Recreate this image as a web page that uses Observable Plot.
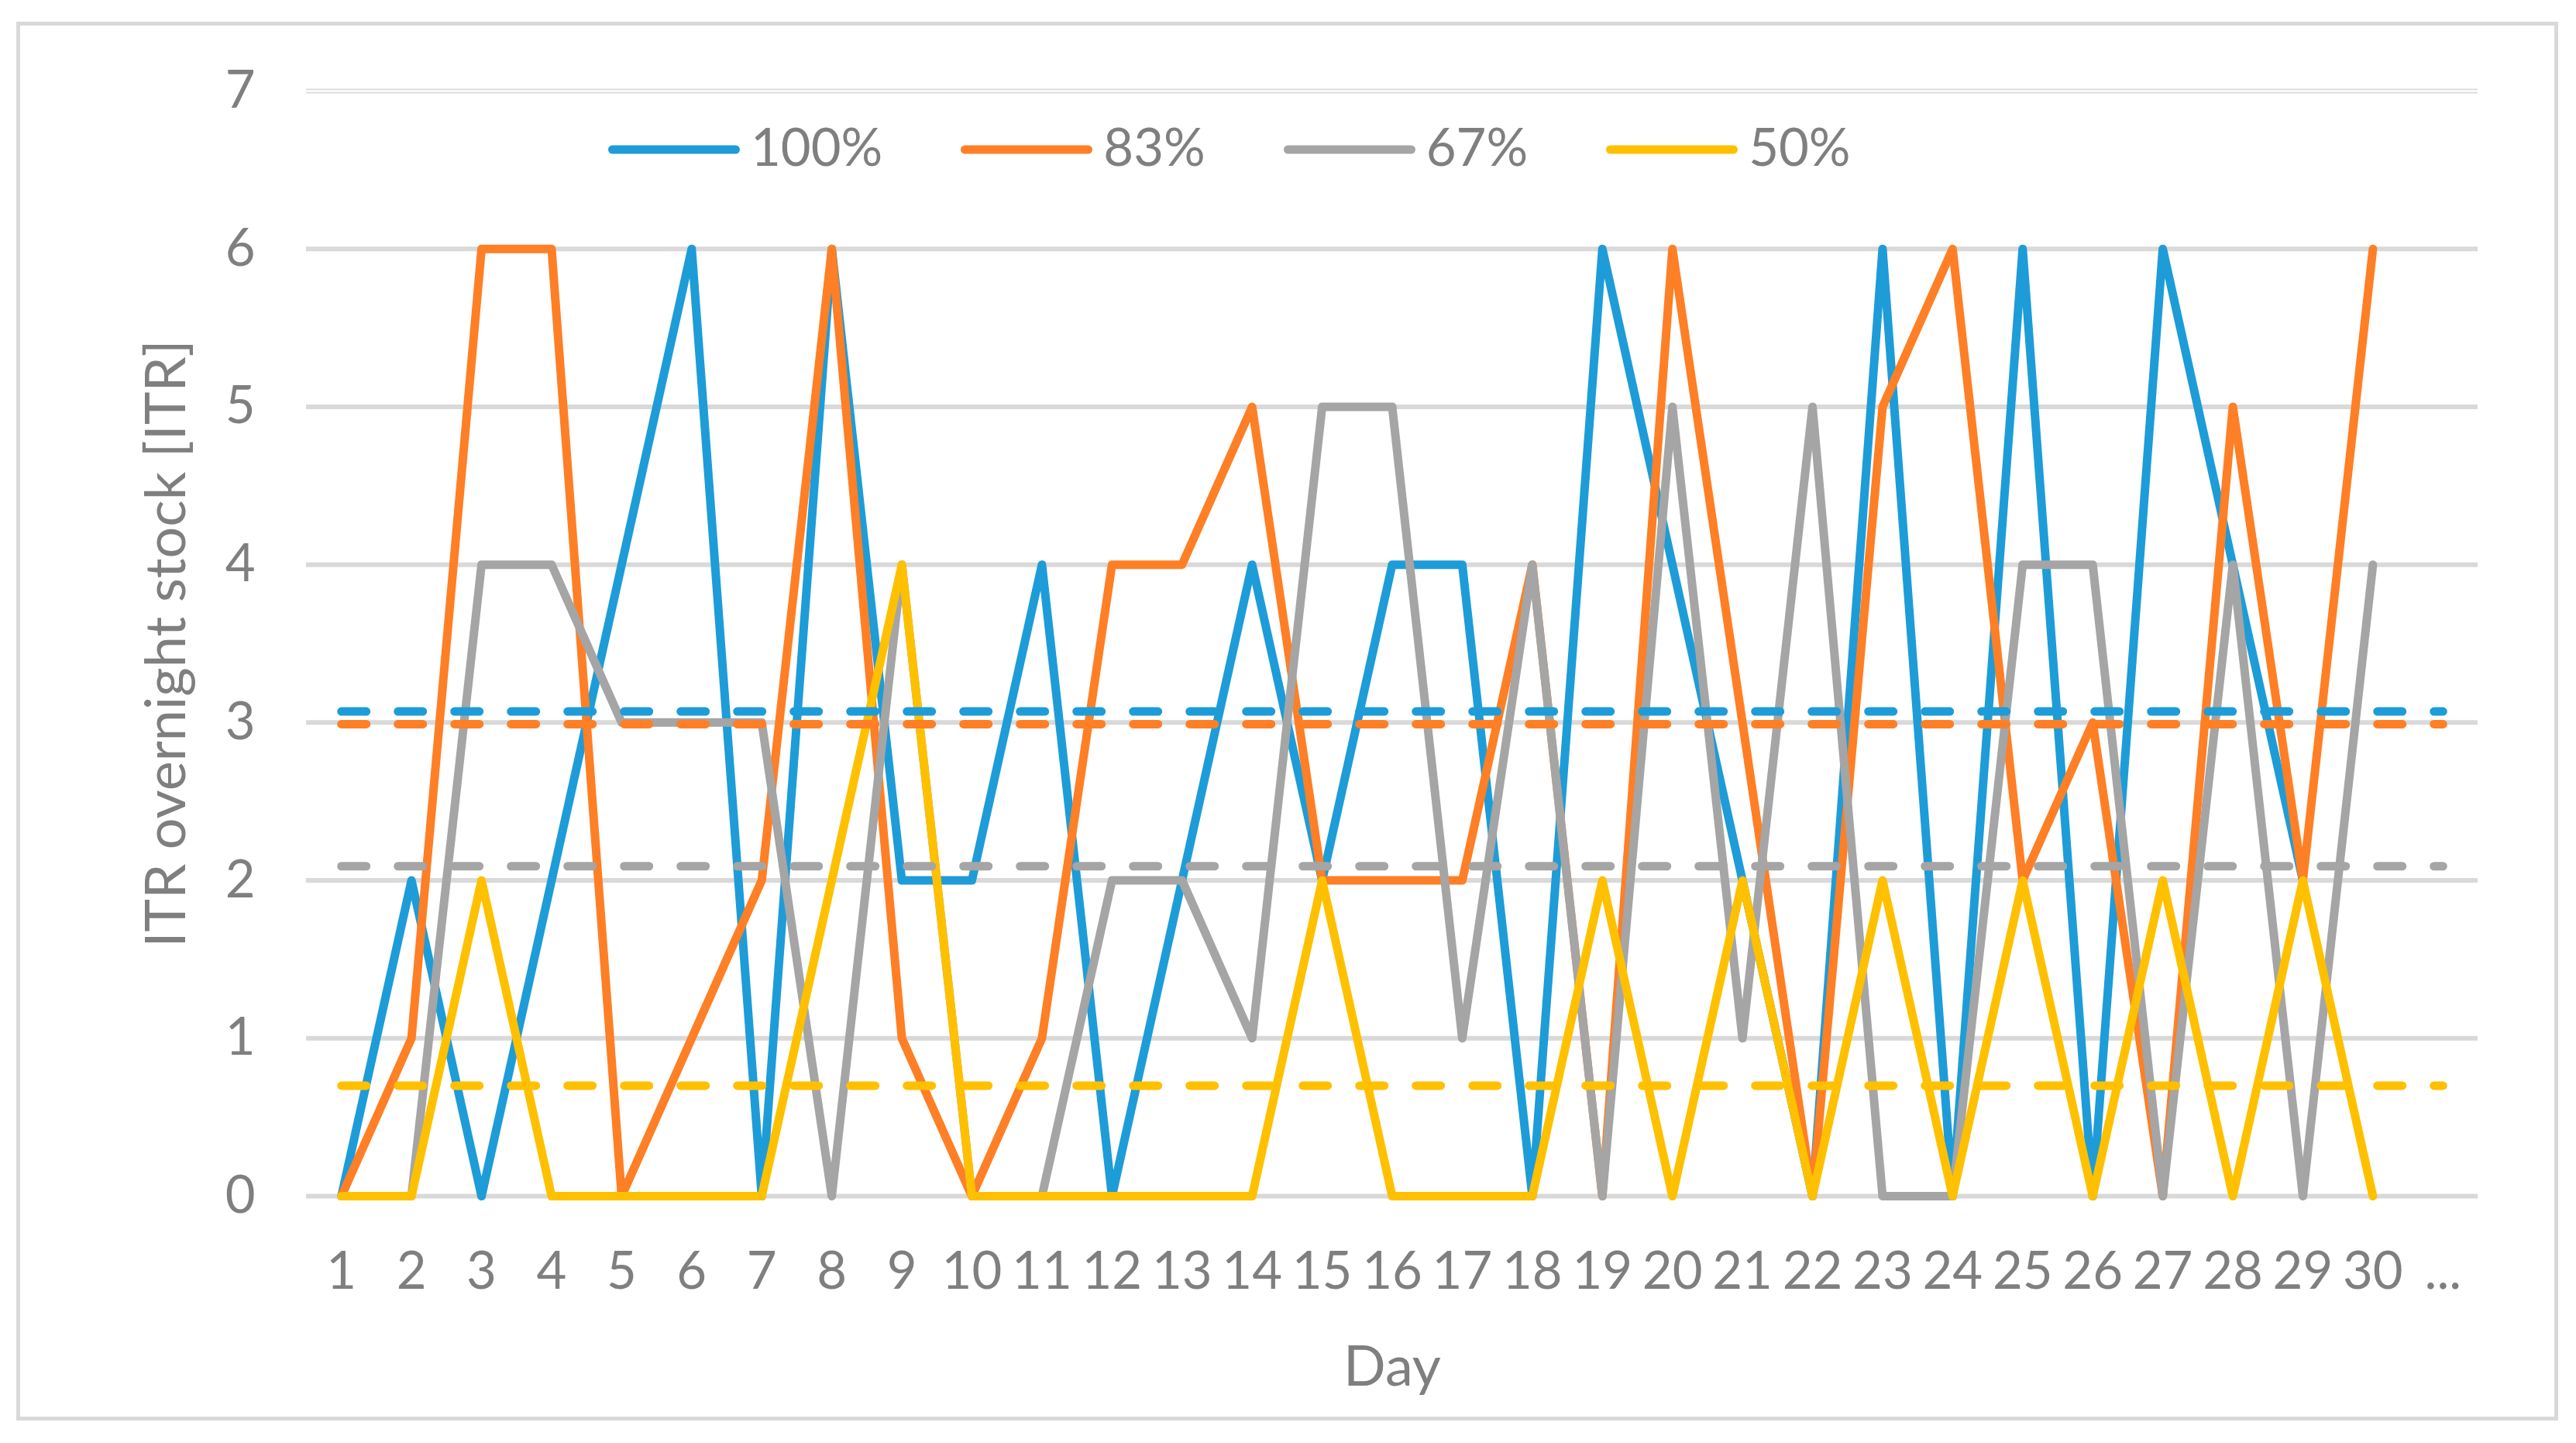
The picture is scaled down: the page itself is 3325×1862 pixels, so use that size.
<!DOCTYPE html>
<html>
<head>
<meta charset="utf-8">
<script src="https://cdn.jsdelivr.net/npm/d3@7"></script>
<script src="https://cdn.jsdelivr.net/npm/@observablehq/plot@0.6"></script>
<style>
  html, body { margin: 0; padding: 0; background: #fff; overflow: hidden; }
  #wrap { position: relative; width: 3325px; height: 1862px; }
  #chart { position: absolute; left: 0; top: 0; }
  #frame { position: absolute; left: 21px; top: 28px; width: 3281px; height: 1805px;
           box-sizing: border-box; border: 5px solid #D9D9D9; pointer-events: none; }
  #legend { position: absolute; left: 785px; top: 193px; transform: translateY(-50%);
            display: flex; align-items: center; column-gap: 101px;
            font-family: Lato, "Open Sans", sans-serif; font-size: 67px; color: #7F7F7F; line-height: 1; }
  .item { display: flex; align-items: center; }
  .sw { width: 170px; height: 11px; border-radius: 6px; margin-right: 14px; }
  .lab { position: relative; top: -5px; }
</style>
</head>
<body>
<div id="wrap">
  <div id="chart"></div>
  <div id="legend"></div>
  <div id="frame"></div>
</div>
<script>
// ---- data ----
const days = ["1","2","3","4","5","6","7","8","9","10","11","12","13","14","15",
              "16","17","18","19","20","21","22","23","24","25","26","27","28","29","30","..."];
const seriesNames = ["100%", "83%", "67%", "50%"];
const s100 = [0,2,0,2,4,6,0,6,2,2,4,0,2,4,2,4,4,0,6,4,2,0,6,0,6,0,6,4,2,null];
const s83  = [0,1,6,6,0,1,2,6,1,0,1,4,4,5,2,2,2,4,0,6,3,0,5,6,2,3,0,5,2,6];
const s67  = [0,0,4,4,3,3,3,0,4,0,0,2,2,1,5,5,1,4,0,5,1,5,0,0,4,4,0,4,0,4];
const s50  = [0,0,2,0,0,0,0,2,4,0,0,0,0,0,2,0,0,0,2,0,2,0,2,0,2,0,2,0,2,0];
const means = [3.07, 2.99, 2.09, 0.70];
const yTicks = [0,1,2,3,4,5,6,7];
const yLabel = "ITR overnight stock [ITR]";
const xLabel = "Day";

// ---- styles ----
const colors = ["#1E9CD8", "#FE7F26", "#A5A5A5", "#FFC000"];
const textColor = "#7F7F7F";
const gridColor = "#D9D9D9";

const seriesValues = [s100, s83, s67, s50];
const rows = seriesNames.flatMap((name, k) =>
  seriesValues[k].map((v, i) => ({day: days[i], value: v, series: name})));
const meanRows = seriesNames.flatMap((name, k) =>
  [days[0], days[days.length - 1]].map(d => ({day: d, value: means[k], series: name})));

const chart = Plot.plot({
  width: 3325,
  height: 1862,
  marginTop: 117,
  marginBottom: 319,
  marginLeft: 395,
  marginRight: 127,
  style: {fontFamily: "Lato, 'Open Sans', sans-serif", color: textColor, background: "transparent"},
  x: {type: "point", domain: days, padding: 0.5, round: false},
  y: {domain: [0, 7]},
  color: {domain: seriesNames, range: colors},
  marks: [
    Plot.ruleY(yTicks, {stroke: gridColor, strokeWidth: 6}),
    Plot.ruleY([yTicks[yTicks.length - 1]], {stroke: "white", strokeWidth: 2.5}),
    Plot.axisY({ticks: yTicks, tickFormat: d => String(d), tickSize: 0, tickPadding: 66, fontSize: 67, label: null}),
    Plot.axisX({tickSize: 0, tickPadding: 72, fontSize: 67, label: null}),
    Plot.line(rows, {x: "day", y: "value", z: "series", stroke: "series",
      strokeWidth: 11, strokeLinejoin: "round", strokeLinecap: "round"}),
    Plot.line(meanRows, {x: "day", y: "value", z: "series", stroke: "series",
      strokeWidth: 11, strokeDasharray: "32,41", strokeLinecap: "round"}),
    Plot.text([yLabel], {text: d => d, frameAnchor: "left", rotate: -90, dx: -157,
      textAnchor: "middle", lineAnchor: "bottom", fontSize: 72, fill: textColor}),
    Plot.text([xLabel], {text: d => d, frameAnchor: "bottom", dy: 244,
      textAnchor: "middle", lineAnchor: "bottom", fontSize: 72, fill: textColor})
  ]
});
document.getElementById("chart").appendChild(chart);

// ---- legend ----
const legend = document.getElementById("legend");
seriesNames.forEach((name, k) => {
  const item = document.createElement("div");
  item.className = "item";
  const sw = document.createElement("span");
  sw.className = "sw";
  sw.style.background = colors[k];
  const lab = document.createElement("span");
  lab.className = "lab";
  lab.textContent = name;
  item.appendChild(sw);
  item.appendChild(lab);
  legend.appendChild(item);
});
</script>
</body>
</html>
